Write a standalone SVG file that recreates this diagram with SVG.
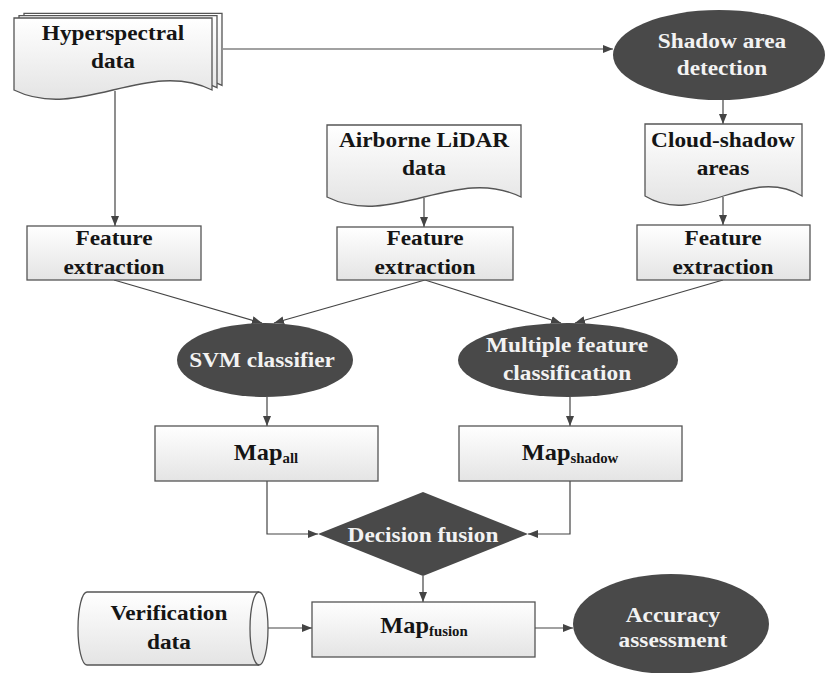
<svg xmlns="http://www.w3.org/2000/svg" width="826" height="673" viewBox="0 0 826 673">
  <defs>
    <linearGradient id="paper" x1="0" y1="0" x2="0" y2="1">
      <stop offset="0" stop-color="#ffffff"/>
      <stop offset="1" stop-color="#e4e4e4"/>
    </linearGradient>
    <marker id="arrow" viewBox="0 0 10 8" refX="10" refY="4" markerWidth="10" markerHeight="8" orient="auto" markerUnits="userSpaceOnUse">
      <path d="M0,0 L10,4 L0,8 Z" fill="#444"/>
    </marker>
    <style>
      .box { fill: url(#paper); stroke: #555; stroke-width: 1.3; }
      .dark { fill: #494949; stroke: none; }
      .edge { fill: none; stroke: #444; stroke-width: 1.2; marker-end: url(#arrow); }
      text { font-family: "Liberation Serif", "Times New Roman", serif; font-weight: bold; font-size: 22px; text-anchor: middle; }
      .ink { fill: #151515; }
      .light { fill: #f2f2f2; }
      .sub { font-size: 14px; }
      .map { font-size: 23px; }
    </style>
  </defs>
  <rect width="826" height="673" fill="#ffffff"/>

  <!-- connectors -->
  <g id="connectors">
    <path class="edge" d="M223,49 H613"/>
    <path class="edge" d="M115,91 V226"/>
    <path class="edge" d="M723,100 V124"/>
    <path class="edge" d="M424,198 V227"/>
    <path class="edge" d="M723,197 V225"/>
    <path class="edge" d="M114,280 L262,323"/>
    <path class="edge" d="M425,280 L274,323"/>
    <path class="edge" d="M425,280 L561,323"/>
    <path class="edge" d="M723,280 L575,323"/>
    <path class="edge" d="M267,397 V426"/>
    <path class="edge" d="M570,397 V426"/>
    <path class="edge" d="M267,481 V534 H318"/>
    <path class="edge" d="M570,481 V534 H528"/>
    <path class="edge" d="M423,576 V602"/>
    <path class="edge" d="M268,628 H312"/>
    <path class="edge" d="M535,628 H573"/>
  </g>

  <!-- stacked documents -->
  <g id="hyperspectral">
    <path class="box" transform="translate(10,-4.6)" d="M14,18 H212 V90 C146.7,58 79.3,122 14,90 Z"/>
    <path class="box" transform="translate(5,-2.3)" d="M14,18 H212 V90 C146.7,58 79.3,122 14,90 Z"/>
    <path class="box" d="M14,18 H212 V90 C146.7,58 79.3,122 14,90 Z"/>
    <text class="ink" transform="matrix(1.06 0 0 1 113 0)" y="40">Hyperspectral</text>
    <text class="ink" transform="matrix(1.06 0 0 1 113 0)" y="68">data</text>
  </g>

  <g id="shadow-detection">
    <ellipse class="dark" cx="719" cy="55" rx="106" ry="45"/>
    <text class="light" transform="matrix(1.06 0 0 1 722 0)" y="48">Shadow area</text>
    <text class="light" transform="matrix(1.06 0 0 1 722 0)" y="75">detection</text>
  </g>

  <g id="lidar">
    <path class="box" d="M327,125 H521 V197 C456,165 392,229 327,197 Z"/>
    <text class="ink" transform="matrix(1.06 0 0 1 424 0)" y="147">Airborne LiDAR</text>
    <text class="ink" transform="matrix(1.06 0 0 1 424 0)" y="175">data</text>
  </g>

  <g id="cloud-shadow">
    <path class="box" d="M645,124 H802 V196 C749.6,164 697.4,228 645,196 Z"/>
    <text class="ink" transform="matrix(1.06 0 0 1 723 0)" y="147">Cloud-shadow</text>
    <text class="ink" transform="matrix(1.06 0 0 1 723 0)" y="175">areas</text>
  </g>

  <!-- feature extraction boxes -->
  <g id="feature-left">
    <rect class="box" x="27" y="226" width="174" height="54"/>
    <text class="ink" transform="matrix(1.06 0 0 1 114 0)" y="245">Feature</text>
    <text class="ink" transform="matrix(1.06 0 0 1 114 0)" y="274">extraction</text>
  </g>
  <g id="feature-mid">
    <rect class="box" x="337" y="227" width="176" height="53"/>
    <text class="ink" transform="matrix(1.06 0 0 1 425 0)" y="245">Feature</text>
    <text class="ink" transform="matrix(1.06 0 0 1 425 0)" y="274">extraction</text>
  </g>
  <g id="feature-right">
    <rect class="box" x="637" y="225" width="173" height="55"/>
    <text class="ink" transform="matrix(1.06 0 0 1 723 0)" y="245">Feature</text>
    <text class="ink" transform="matrix(1.06 0 0 1 723 0)" y="274">extraction</text>
  </g>

  <!-- classifiers -->
  <g id="svm">
    <ellipse class="dark" cx="265" cy="360" rx="88" ry="37"/>
    <text class="light" transform="matrix(1.06 0 0 1 262 0)" y="367">SVM classifier</text>
  </g>
  <g id="multi-feature">
    <ellipse class="dark" cx="568" cy="360" rx="110" ry="37"/>
    <text class="light" transform="matrix(1.06 0 0 1 567 0)" y="352">Multiple feature</text>
    <text class="light" transform="matrix(1.06 0 0 1 567 0)" y="380">classification</text>
  </g>

  <!-- maps -->
  <g id="map-all">
    <rect class="box" x="155" y="426" width="223" height="55"/>
    <text class="ink map" transform="matrix(1.06 0 0 1 266 0)" y="460">Map<tspan class="sub" dy="3">all</tspan></text>
  </g>
  <g id="map-shadow">
    <rect class="box" x="459" y="426" width="223" height="55"/>
    <text class="ink map" transform="matrix(1.06 0 0 1 570 0)" y="460">Map<tspan class="sub" dy="3">shadow</tspan></text>
  </g>

  <g id="decision-fusion">
    <path class="dark" d="M423,492 L528,534 L423,576 L318,534 Z"/>
    <text class="light" transform="matrix(1.06 0 0 1 423 0)" y="542">Decision fusion</text>
  </g>

  <g id="verification">
    <path class="box" d="M87,592 H259 A9,36.5 0 0 1 259,665 H87 A9,36.5 0 0 1 87,592 Z"/>
    <path d="M259,665 A9,36.5 0 0 1 259,592" fill="none" stroke="#555" stroke-width="1.3"/>
    <text class="ink" transform="matrix(1.06 0 0 1 169 0)" y="620">Verification</text>
    <text class="ink" transform="matrix(1.06 0 0 1 169 0)" y="649">data</text>
  </g>

  <g id="map-fusion">
    <rect class="box" x="312" y="602" width="223" height="55"/>
    <text class="ink map" transform="matrix(1.06 0 0 1 424 0)" y="633">Map<tspan class="sub" dy="3">fusion</tspan></text>
  </g>

  <g id="accuracy">
    <ellipse class="dark" cx="671" cy="624" rx="98" ry="50"/>
    <text class="light" transform="matrix(1.06 0 0 1 673 0)" y="622">Accuracy</text>
    <text class="light" transform="matrix(1.06 0 0 1 673 0)" y="647">assessment</text>
  </g>
</svg>
